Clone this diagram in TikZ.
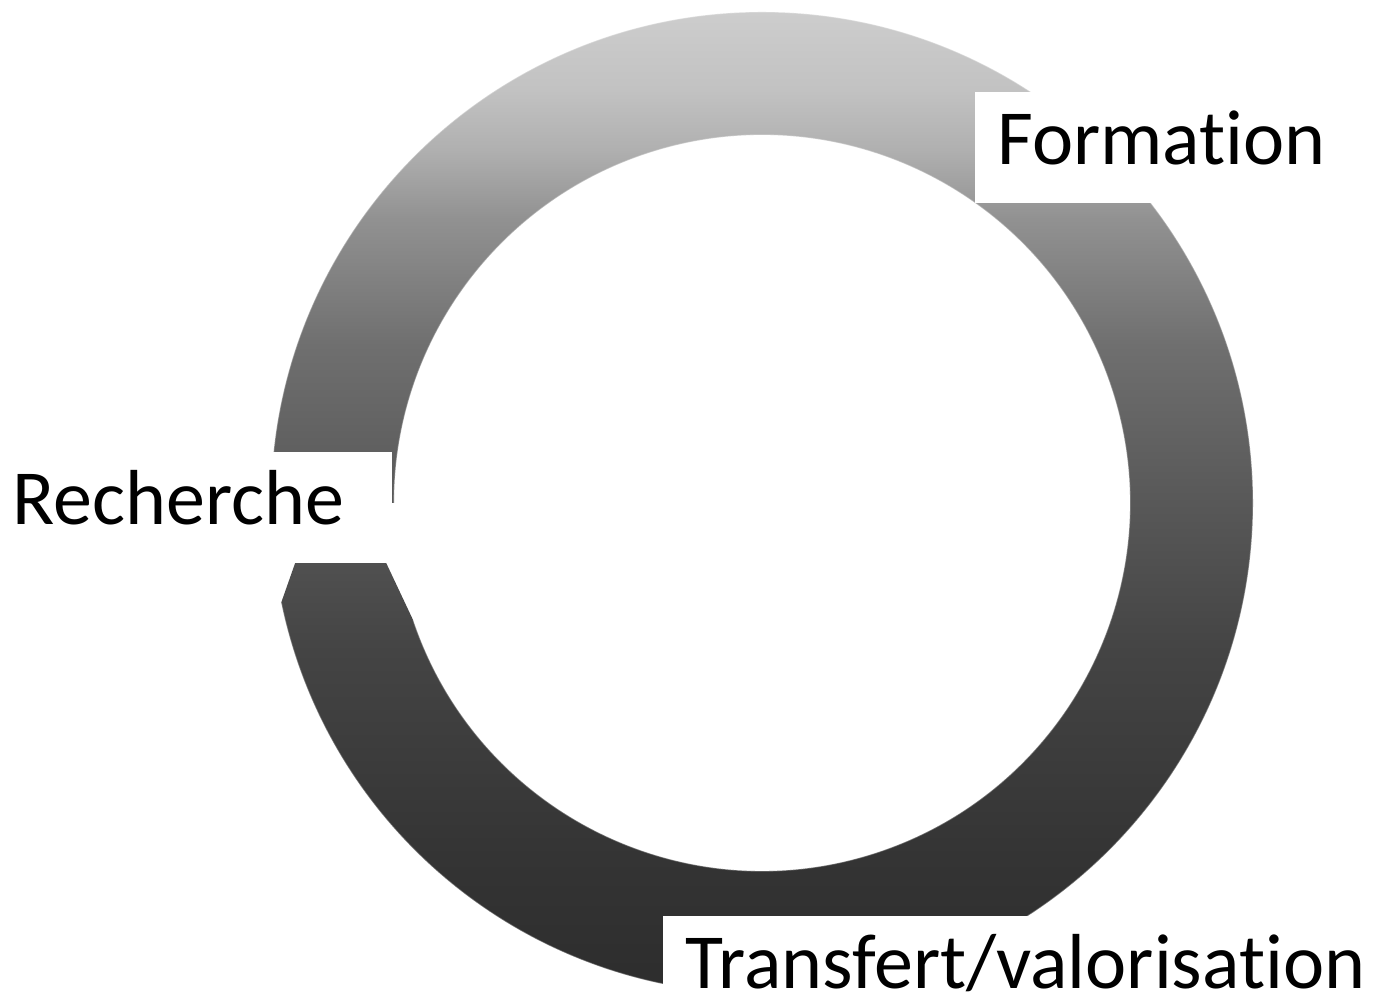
\documentclass[tikz,border=0pt]{standalone}
\usepackage{fontspec}
\setmainfont{Carlito}[Ligatures=NoCommon]
\usetikzlibrary{calc}

% ring gradient, the path spans 25bp to 75bp
\pgfdeclareverticalshading{ringgrad}{100bp}{%
  rgb(0bp)=(.176,.176,.176); rgb(25bp)=(.176,.176,.176);
  rgb(32bp)=(.204,.204,.204); rgb(42.5bp)=(.267,.267,.267);
  rgb(50bp)=(.345,.345,.345); rgb(58bp)=(.435,.435,.435);
  rgb(64.5bp)=(.570,.570,.570); rgb(68bp)=(.690,.690,.690);
  rgb(71bp)=(.760,.760,.760);
  rgb(75bp)=(.804,.804,.804); rgb(100bp)=(.804,.804,.804)}

\begin{document}
\begin{tikzpicture}[x=0.5pt,y=0.5pt]

\def\xc{762}
\def\yc{491}
\def\rout{491}
\def\rin{368}
\def\aout{-168.3}
\def\ain{-161.4}

\tikzset{ringshade/.style={shading=ringgrad}}
\tikzset{ringedge/.style={draw=white, draw opacity=0.3, line width=0.6pt}}
\tikzset{labelbox/.style={fill=white, inner sep=0pt, anchor=base west, align=left,
                          font=\fontsize{39pt}{44pt}\selectfont}}

\useasboundingbox (0,0) rectangle (1380,994);

\coordinate (c) at (\xc,\yc);

%ring
\shade[ringshade] ($(c)+(180:\rout)$) arc[start angle=180, end angle=\aout, radius=\rout]
    -- (305,459) -- (373,459) -- ($(c)+(\ain:\rin)$)
    arc[start angle=\ain, end angle=180, radius=\rin] -- cycle;
\path[ringedge] ($(c)+(180:\rout)$) arc[start angle=180, end angle=\aout, radius=\rout];
\path[ringedge] ($(c)+(\ain:\rin)$) arc[start angle=\ain, end angle=180, radius=\rin];

%labels
\node[labelbox, text width=182.5pt, text height=36.5pt, text depth=19pt] (formation)
    at (975,829) {\noindent\hspace*{11pt}Formation};
\node[labelbox, text width=196pt, text height=36.5pt, text depth=19pt] (recherche)
    at (0,469) {\noindent\hspace*{6pt}Recherche};
\node[labelbox, text width=358.5pt, text height=36.5pt, text depth=2.5pt] (transfert)
    at (663,5) {\noindent\hspace*{11pt}Transfert/valorisation};

\end{tikzpicture}
\end{document}
